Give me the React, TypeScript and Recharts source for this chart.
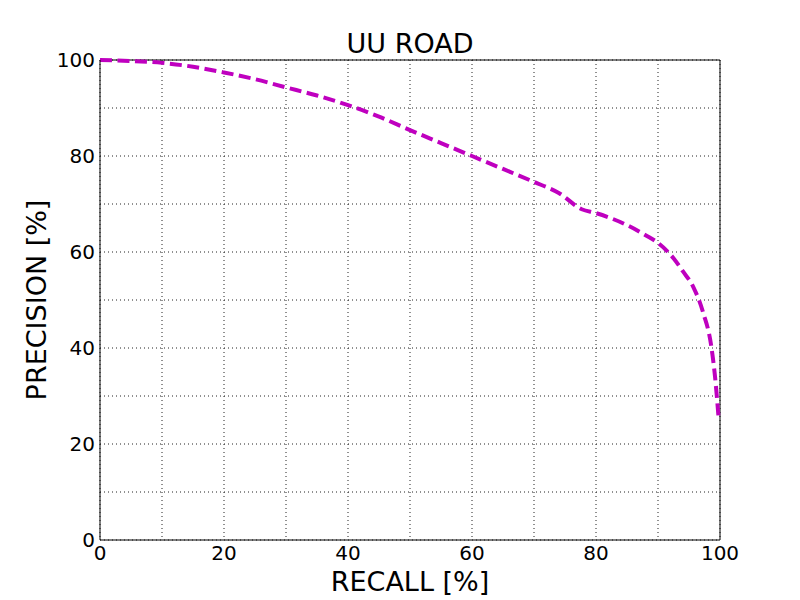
import { LineChart, Line, XAxis, YAxis, CartesianGrid, ReferenceLine, Label } from "recharts"

const recall = [0, 5, 10, 15, 20, 25, 30, 35, 40, 45, 50, 55, 60, 65, 70, 74, 77.7, 80, 85, 88, 90, 92.5, 94, 95.7, 97.3, 98.6, 99.2, 99.8]
const precision = [100, 99.8, 99.4, 98.6, 97.4, 96, 94.3, 92.6, 90.6, 88.2, 85.4, 82.7, 80, 77.3, 74.6, 72.3, 68.9, 68.1, 65.6, 63.5, 61.9, 58.7, 56, 52.7, 47.3, 40.3, 34, 25]
const gridTicks = [0, 10, 20, 30, 40, 50, 60, 70, 80, 90, 100]

const data = recall.map((r, i) => ({ recall: r, precision: precision[i] }))

const FONT = "'DejaVu Sans', sans-serif"
const fmt = (v: number) => (v % 20 === 0 ? String(v) : "")

export default function App() {
  return (
    <div style={{ position: "absolute", left: 0, top: 0, width: 800, height: 600, background: "#fff", fontFamily: FONT }}>
      <div
        style={{
          position: "absolute",
          left: 0,
          width: 820,
          top: 30,
          textAlign: "center",
          fontSize: 27,
          lineHeight: "27px",
          color: "#000",
        }}
      >
        UU ROAD
      </div>
      <LineChart width={800} height={600} data={data} margin={{ top: 60, right: 80, left: 30, bottom: 0 }}>
        <CartesianGrid stroke="#222" strokeDasharray="1 3" strokeWidth={1} />
        <XAxis
          dataKey="recall"
          type="number"
          domain={[0, 100]}
          ticks={gridTicks}
          tickFormatter={fmt}
          tickLine={false}
          tickSize={6}
          tickMargin={0}
          height={60}
          axisLine={{ stroke: "#000" }}
          tick={{ fill: "#000", fontSize: 20, fontFamily: FONT }}
          interval={0}
        >
          <Label
            content={() => (
              <text x={410} y={591} textAnchor="middle" fontSize={27} fontFamily={FONT} fill="#000">
                RECALL [%]
              </text>
            )}
          />
        </XAxis>
        <YAxis
          type="number"
          domain={[0, 100]}
          ticks={gridTicks}
          tickFormatter={fmt}
          tickLine={false}
          tickSize={3}
          tickMargin={2}
          width={70}
          axisLine={{ stroke: "#000" }}
          tick={{ fill: "#000", fontSize: 20, fontFamily: FONT }}
          interval={0}
        >
          <Label
            content={() => (
              <text x={46} y={300} transform="rotate(-90 46 300)" textAnchor="middle" fontSize={27} fontFamily={FONT} fill="#000">
                PRECISION [%]
              </text>
            )}
          />
        </YAxis>
        <ReferenceLine x={100} stroke="#000" strokeWidth={1} />
        <ReferenceLine y={100} stroke="#000" strokeWidth={1} />
        <Line
          type="monotone"
          dataKey="precision"
          stroke="#bf00bf"
          strokeWidth={4}
          strokeDasharray="12 5.5"
          dot={false}
          activeDot={false}
          isAnimationActive={false}
        />
      </LineChart>
    </div>
  )
}
